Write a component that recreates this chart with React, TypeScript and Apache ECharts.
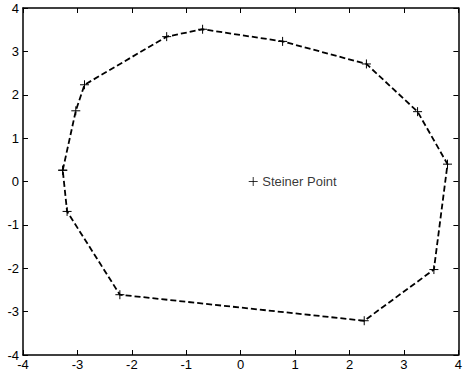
import React, { useEffect, useRef } from "react";
import * as echarts from "echarts";

const hullX = [-3.27, -3.03, -2.87, -1.36, -0.70, 0.77, 2.31, 3.25, 3.80, 3.55, 2.27, -2.22, -3.19, -3.27];
const hullY = [0.26, 1.63, 2.23, 3.34, 3.51, 3.23, 2.71, 1.61, 0.40, -2.03, -3.21, -2.61, -0.69, 0.26];
const steinerX = [0.23];
const steinerY = [0.0];
const steinerLabel = "Steiner Point";
const ticks = [-4, -3, -2, -1, 0, 1, 2, 3, 4];

const plus = "path://M0,-5L0,5M-5,0L5,0";
const font = "Liberation Sans, Arial, Helvetica, sans-serif";

export default function App() {
  const ref = useRef<HTMLDivElement>(null);
  useEffect(() => {
    const chart = echarts.init(ref.current!, null, { renderer: "svg" });
    const axisCommon = {
      type: "value",
      min: ticks[0],
      max: ticks[ticks.length - 1],
      interval: 1,
      splitLine: { show: false },
      axisLine: { show: true, onZero: false, lineStyle: { color: "#000", width: 1.5 } },
      axisTick: { show: true, inside: true, length: 5, lineStyle: { color: "#000" } },
    };
    chart.setOption({
      animation: false,
      backgroundColor: "#fff",
      grid: { left: 23, right: 4, top: 8, bottom: 21, containLabel: false },
      xAxis: [
        {
          ...axisCommon,
          position: "bottom",
          axisLabel: { color: "#000", fontSize: 13, fontFamily: font, margin: 3 },
        },
        {
          ...axisCommon,
          position: "top",
          axisLabel: { show: false },
        },
      ],
      yAxis: [
        {
          ...axisCommon,
          position: "left",
          axisLabel: { color: "#000", fontSize: 13, fontFamily: font, margin: 4 },
        },
        {
          ...axisCommon,
          position: "right",
          axisLabel: { show: false },
        },
      ],
      series: [
        {
          type: "line",
          data: hullX.map((x, i) => [x, hullY[i]]),
          lineStyle: { color: "#000", width: 1.8, type: [6, 3] },
          symbol: plus,
          symbolSize: 9,
          showSymbol: true,
          itemStyle: { color: "none", borderColor: "#000", borderWidth: 1 },
          z: 3,
        },
        {
          type: "scatter",
          data: steinerX.map((x, i) => [x, steinerY[i]]),
          symbol: plus,
          symbolSize: 9,
          itemStyle: { color: "none", borderColor: "#000", borderWidth: 1 },
          label: {
            show: true,
            position: "right",
            distance: 2,
            formatter: steinerLabel,
            color: "#000",
            fontSize: 13,
            fontFamily: font,
          },
        },
      ],
    });
    return () => chart.dispose();
  }, []);
  return <div ref={ref} style={{ width: 465, height: 376, position: "absolute", left: 0, top: 0 }} />;
}
